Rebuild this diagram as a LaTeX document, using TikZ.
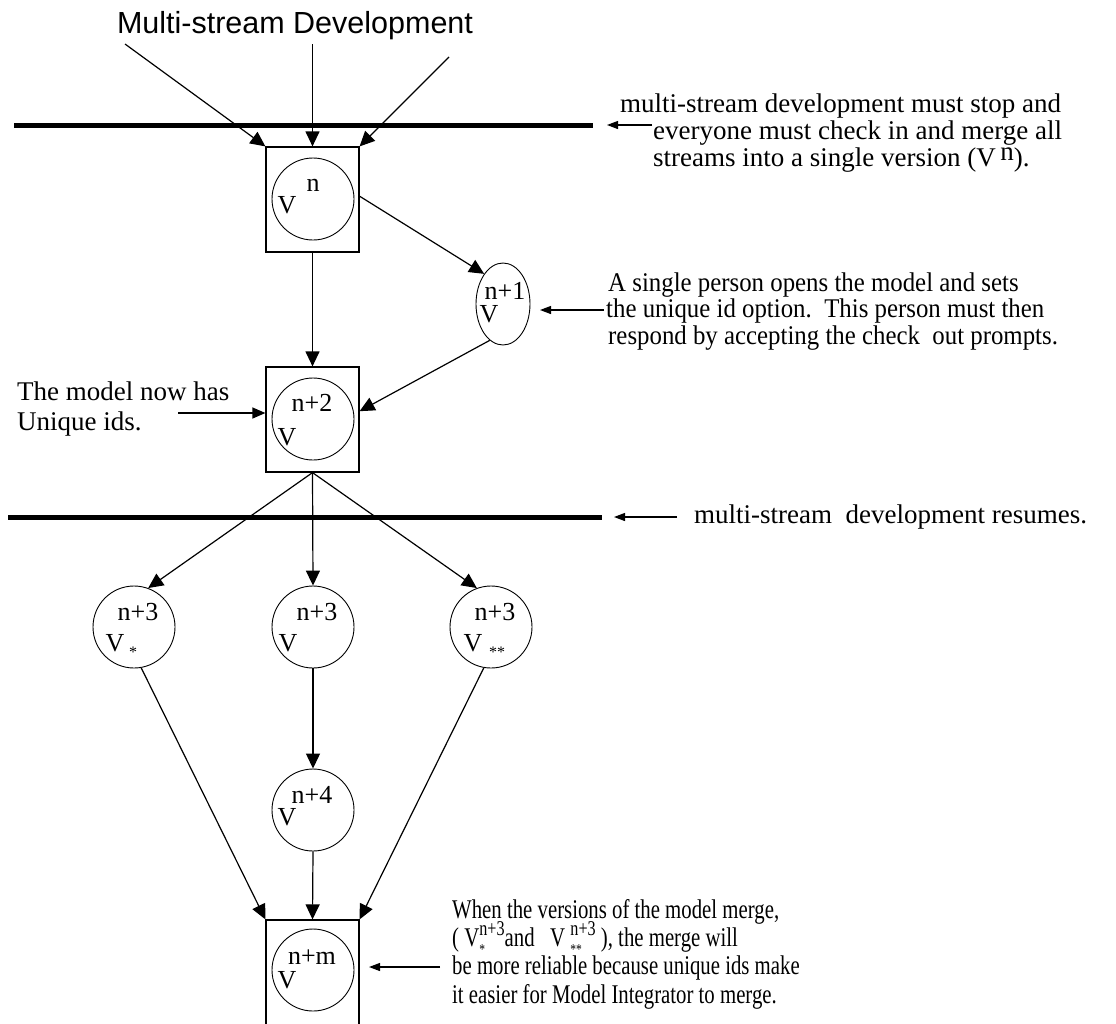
\documentclass[tikz,border=0pt]{standalone}
\usepackage{fontspec}
\setmainfont{Liberation Serif}
\newfontfamily\headfont{Liberation Sans}
\newfontfamily\midfont[FakeStretch=0.92]{Liberation Serif}
\newfontfamily\narrowfont[FakeStretch=0.77]{Liberation Serif}
\usetikzlibrary{arrows.meta,shapes.geometric}

% superscript over subscript, both starting after the preceding letter
\newcommand{\supsub}[2]{\makebox[0pt][l]{\raisebox{-0.3em}{\fontsize{15}{15}\selectfont #2}}\raisebox{0.38em}{\fontsize{21}{21}\selectfont #1}}

\begin{document}
\begin{tikzpicture}[x=1pt,y=-1pt,
  txt/.style={anchor=base west, inner sep=0pt, font=\fontsize{27}{27}\selectfont},
  midtxt/.style={txt, font=\midfont\fontsize{27}{27}\selectfont},
  narrowtxt/.style={txt, font=\narrowfont\fontsize{27}{27}\selectfont},
  lbl/.style={inner sep=0pt, font=\fontsize{26}{26}\selectfont},
  star/.style={inner sep=0pt, font=\fontsize{16}{16}\selectfont},
  bar/.style={line width=5pt},
  conn/.style={line width=1.2pt, -{Triangle[length=15pt,width=14pt]}},
  note/.style={line width=1.2pt, -{Triangle[length=11pt,width=8pt]}},
  ver/.style={circle, draw, line width=0.9pt, minimum size=82pt, inner sep=0pt},
  frame/.style={draw, line width=1.2pt, minimum width=93pt, minimum height=105pt, inner sep=0pt}
]
\useasboundingbox (0,0) rectangle (1116,1023);

% ---- title and incoming streams
\node[anchor=base, inner sep=0pt, font=\headfont\fontsize{30.5}{30}\selectfont] (title) at (295,33) {Multi-stream Development};
\coordinate (s1) at (125,44);
\coordinate (s2) at (312.5,44);
\coordinate (s3) at (449,57);

% ---- synchronisation bars
\draw[bar] (14,125) -- (593,125);
\draw[bar] (8,517) -- (602,517);

% ---- version V^n
\node[frame] (boxA) at (312.5,199.5) {};
\node[ver] (vA) at (313,199) {};
\node[lbl] (vAV) at (287,205) {V};
\node[lbl] (vAs) at (313,185) {n};

% ---- version V^{n+1}
\node[ellipse, draw, line width=0.9pt, minimum width=54pt, minimum height=82pt, inner sep=0pt] (vB) at (503,304) {};
\node[lbl] (vBs) at (505,291) {n+1};
\node[lbl] (vBV) at (489,314) {V};

% ---- version V^{n+2}
\node[frame] (boxC) at (312.5,419.5) {};
\node[ver] (vC) at (313,419) {};
\node[lbl] (vCs) at (312,403) {n+2};
\node[lbl] (vCV) at (287,437) {V};

% ---- three parallel versions
\node[ver] (c1) at (134,627) {};
\node[lbl] (c1s) at (138,612) {n+3};
\node[lbl] (c1V) at (115,643) {V};
\node[star] (c1x) at (133,652) {*};

\node[ver] (c2) at (313,627) {};
\node[lbl] (c2s) at (317,612) {n+3};
\node[lbl] (c2V) at (288,643) {V};

\node[ver] (c3) at (491,627) {};
\node[lbl] (c3s) at (495,612) {n+3};
\node[lbl] (c3V) at (473,643) {V};
\node[star] (c3x) at (497,652) {**};

% ---- version V^{n+4}
\node[ver] (v4) at (313,810) {};
\node[lbl] (v4s) at (312,795) {n+4};
\node[lbl] (v4V) at (287,817) {V};

% ---- merged version V^{n+m}
\node[frame, minimum height=120pt] (boxD) at (312.5,980) {};
\node[ver] (vD) at (313,970) {};
\node[lbl] (vDs) at (312,957) {n+m};
\node[lbl] (vDV) at (287,980) {V};

% ---- connectors
\draw[conn] (s1) -- (boxA.north west);
\draw[conn] (s2) -- (boxA.north);
\draw[conn] (s3) -- (boxA.north east);
\draw[conn] (boxA.south) -- (boxC.north);
\draw[conn] (boxA.4) -- (vB.122);
\draw[conn] (vB.250) -- (boxC.10);
\draw[conn] (boxC.south) -- (c1.70);
\draw[conn] (boxC.south) -- (c2.north);
\draw[conn] (boxC.south) -- (c3.110);
\draw[conn] (c1.-80) -- (boxD.north west);
\draw[conn] (c2.south) -- (v4.north);
\draw[conn] (c3.-100) -- (boxD.north east);
\draw[conn] (v4.south) -- (boxD.north);

% ---- notes
\node[txt] (t1a) at (620,112) {multi-stream development must stop and};
\node[txt] (t1b) at (653,139) {everyone must check in and merge all};
\node[txt] (t1c) at (653,166) {streams into a single version (V\,\raisebox{0.22em}{n}).};
\coordinate (a1) at (652,125);
\coordinate (a1t) at (607,125);
\draw[note] (a1) -- (a1t);

\node[midtxt] (t2a) at (608,291) {A single person opens the model and sets};
\node[midtxt] (t2b) at (606,317) {the unique id option.\ \ This person must then};
\node[midtxt] (t2c) at (608,344) {respond by accepting the check\ \ out prompts.};
\coordinate (a2) at (604,310);
\coordinate (a2t) at (540,310);
\draw[note] (a2) -- (a2t);

\node[txt] (t3a) at (17,400) {The model now has};
\node[txt] (t3b) at (17,430) {Unique ids.};
\coordinate (a3) at (178,413);
\draw[conn, -{Triangle[length=13pt,width=11pt]}] (a3) -- (boxC.west |- a3);

\node[txt] (t4) at (694,523) {multi-stream\ \ development resumes.};
\coordinate (a4) at (677,517);
\coordinate (a4t) at (614,517);
\draw[note] (a4) -- (a4t);

\node[narrowtxt] (t5a) at (452,918) {When the versions of the model merge,};
\node[narrowtxt] (t5b) at (452,946) {( V\supsub{n+3}{*}and\ \ \ V\ \supsub{n+3}{**}\ ), the merge will};
\node[narrowtxt] (t5c) at (452,974) {be more reliable because unique ids make};
\node[narrowtxt] (t5d) at (452,1003) {it easier for Model Integrator to merge.};
\coordinate (a5) at (440,967);
\coordinate (a5t) at (369,967);
\draw[note] (a5) -- (a5t);
\end{tikzpicture}
\end{document}
